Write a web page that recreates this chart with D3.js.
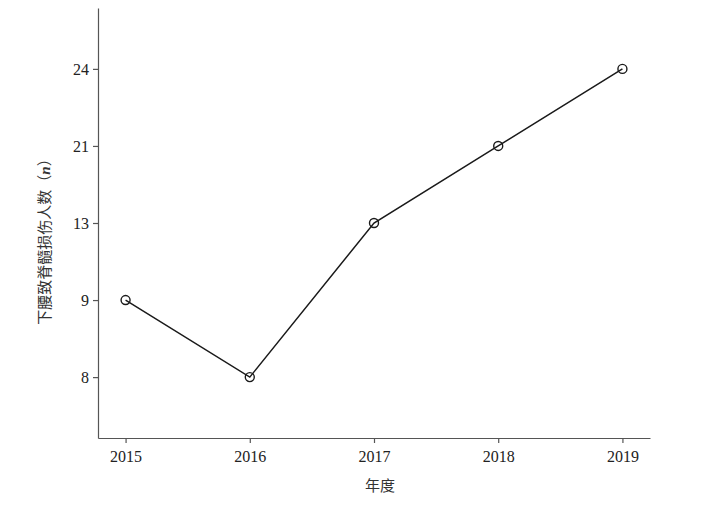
<!DOCTYPE html>
<html><head><meta charset="utf-8">
<script src="https://cdn.jsdelivr.net/npm/d3@7"></script>
<style>body{margin:0;background:#fff}</style>
</head><body>
<svg id="c" width="708" height="506"></svg>
<script>
const years = ["2015","2016","2017","2018","2019"];
const values = [9, 8, 13, 21, 24];
const yTicks = [8, 9, 13, 21, 24];
const xTitle = "年度";
const yTitle = "下腰致脊髓损伤人数（";

(function(){
const svg = d3.select("#c");
const mLeft = 98, mRight = 650, mTop = 8, mBottom = 438;
const x = d3.scalePoint().domain(years).range([mLeft, mRight]).padding(0.222);
const y = d3.scalePoint().domain(yTicks).range([mBottom, mTop]).padding(0.79);

const axisColor = "#555";
const font = "'Liberation Serif','Times New Roman',serif";

const gx = svg.append("g").attr("transform", `translate(0,${mBottom})`)
  .call(d3.axisBottom(x).tickSize(5).tickSizeOuter(0).tickPadding(8));
const gy = svg.append("g").attr("transform", `translate(${mLeft},0)`)
  .call(d3.axisLeft(y).tickSize(5).tickSizeOuter(0).tickPadding(4));
[gx, gy].forEach(g => {
  g.select(".domain").attr("stroke", axisColor).attr("stroke-width", 1.2);
  g.selectAll(".tick line").attr("stroke", axisColor).attr("stroke-width", 1.2);
  g.selectAll(".tick text").attr("fill", "#222").style("font-family", font).style("font-size", "16px");
});

const line = d3.line().x((d, i) => x(years[i])).y(d => y(d));
svg.append("path").datum(values).attr("d", line)
  .attr("fill", "none").attr("stroke", "#1a1a1a").attr("stroke-width", 1.5);
svg.selectAll("circle.pt").data(values).enter().append("circle")
  .attr("class", "pt")
  .attr("cx", (d, i) => x(years[i])).attr("cy", d => y(d)).attr("r", 4.5)
  .attr("fill", "none").attr("stroke", "#1a1a1a").attr("stroke-width", 1.4);

svg.append("text").attr("x", (mLeft + mRight) / 2 + 6).attr("y", 491)
  .attr("text-anchor", "middle").attr("fill", "#333")
  .style("font-family", "'Noto Sans CJK SC',serif").style("font-size", "15px").text(xTitle);

const yt = svg.append("text").attr("transform", `translate(50,238) rotate(-90)`)
  .attr("text-anchor", "middle").attr("fill", "#333")
  .style("font-family", "'Noto Sans CJK SC',serif").style("font-size", "15px");
yt.append("tspan").text(yTitle);
yt.append("tspan").style("font-family", font).style("font-style", "italic").style("font-weight", "bold").text("n");
yt.append("tspan").text("）");
})();
</script>
</body></html>
